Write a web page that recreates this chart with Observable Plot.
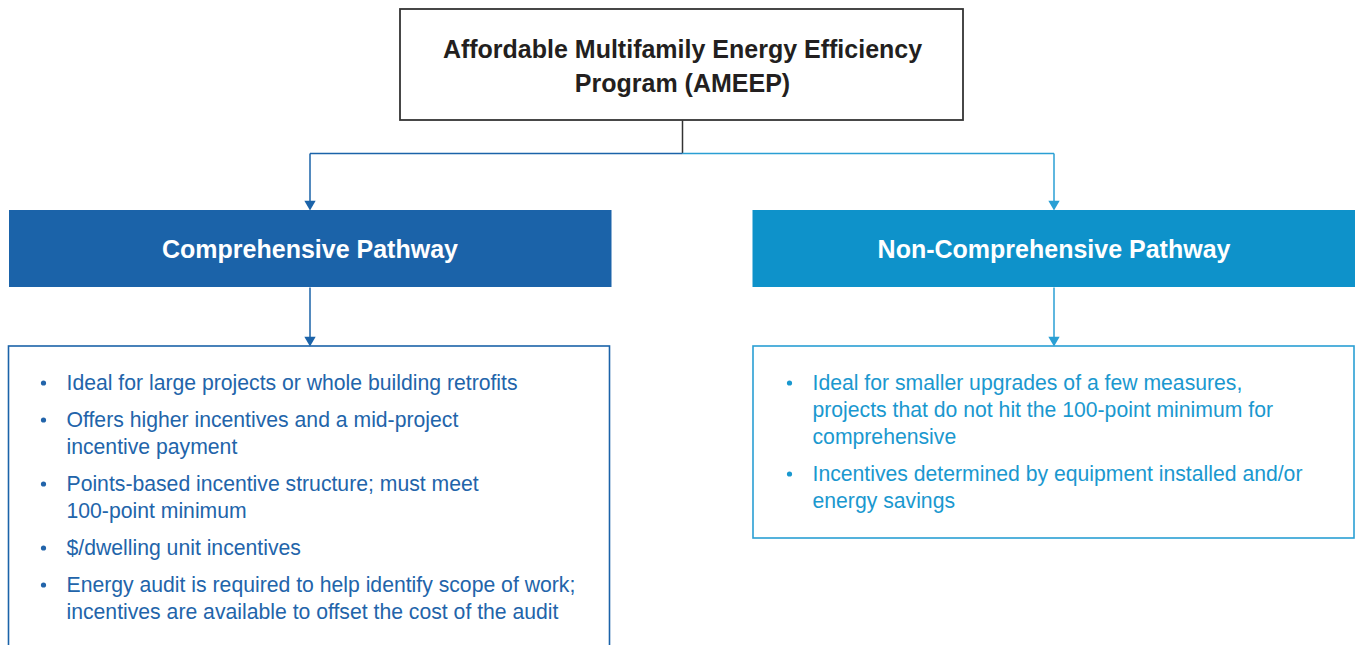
<!DOCTYPE html>
<html><head><meta charset="utf-8">
<script src="https://cdn.jsdelivr.net/npm/d3@7"></script>
<script src="https://cdn.jsdelivr.net/npm/@observablehq/plot@0.6"></script>
<style>html,body{margin:0;padding:0;background:#fff;overflow:hidden}svg{display:block}</style>
</head><body><div id="chart"></div>
<script>
// ---- content ----
const titleLines = ["Affordable Multifamily Energy Efficiency", "Program (AMEEP)"];
const pathwayNames = ["Comprehensive Pathway", "Non-Comprehensive Pathway"];
const comprehensiveBullets = [
  ["Ideal for large projects or whole building retrofits"],
  ["Offers higher incentives and a mid-project", "incentive payment"],
  ["Points-based incentive structure; must meet", "100-point minimum"],
  ["$/dwelling unit incentives"],
  ["Energy audit is required to help identify scope of work;", "incentives are available to offset the cost of the audit"]
];
const nonComprehensiveBullets = [
  ["Ideal for smaller upgrades of a few measures,", "projects that do not hit the 100-point minimum for", "comprehensive"],
  ["Incentives determined by equipment installed and/or", "energy savings"]
];
const pathwayBullets = [comprehensiveBullets, nonComprehensiveBullets];

// ---- styles ----
const pathwayFill = ["#1b63a9", "#0e92ca"];
const pathwayLine = ["#1b63a9", "#2a9fd4"];
const pathwayText = ["#2264aa", "#1a98cf"];
const ink = "#231f20";
const font = "'Liberation Sans', Arial, Helvetica, sans-serif";

// ---- layout ----
const W = 1355, H = 645;
const topBox = {x1: 400, x2: 963, y1: 9, y2: 120};
const topCx = 682, splitY = 153;
const colCx = [309.5, 1053.5];
const headerX = [[9, 611.5], [752.5, 1356]];
const headerY = [210, 287];
const contentX = [[8.5, 609.5], [753, 1354]];
const contentY1 = 346;
const contentY2 = [670, 538];
const bulletX = [43, 789], textX = [66, 812];
const firstLineY = 383, lineStep = 27, itemGap = 10;
const arrowR = 4.2;
const arrowTip = 2 * Math.sqrt(Math.PI * arrowR * arrowR / (Math.sqrt(3) * 3));

// ---- derived tables ----
const boxes = [
  {x1: topBox.x1, x2: topBox.x2, y1: topBox.y1, y2: topBox.y2, fill: "#ffffff", stroke: "#333333", sw: 1.8},
  ...pathwayNames.map((n, i) => ({x1: headerX[i][0], x2: headerX[i][1], y1: headerY[0], y2: headerY[1], fill: pathwayFill[i], stroke: "none", sw: 0})),
  ...pathwayNames.map((n, i) => ({x1: contentX[i][0], x2: contentX[i][1], y1: contentY1, y2: contentY2[i], fill: "#ffffff", stroke: pathwayLine[i], sw: 1.6}))
];

const segments = [
  {x1: topCx, y1: topBox.y2, x2: topCx, y2: splitY, c: "#333333"},
  {x1: colCx[0], y1: splitY, x2: topCx, y2: splitY, c: pathwayLine[0]},
  {x1: topCx, y1: splitY, x2: colCx[1], y2: splitY, c: pathwayLine[1]},
  ...colCx.map((x, i) => ({x1: x, y1: splitY, x2: x, y2: headerY[0] - 5, c: pathwayLine[i]})),
  ...colCx.map((x, i) => ({x1: x, y1: headerY[1], x2: x, y2: contentY1 - 5, c: pathwayLine[i]}))
];

const arrows = [
  ...colCx.map((x, i) => ({x, y: headerY[0] - arrowTip, c: pathwayLine[i]})),
  ...colCx.map((x, i) => ({x, y: contentY1 - arrowTip, c: pathwayLine[i]}))
];

const titleRows = titleLines.map((t, i) => ({x: topCx, y: 49 + i * 34, t}));
const headerRows = pathwayNames.map((t, i) => ({x: colCx[i], y: 249, t}));

const bulletRows = [], bulletDots = [];
pathwayBullets.forEach((items, i) => {
  let y = firstLineY;
  items.forEach(lines => {
    bulletDots.push({x: bulletX[i], y: y - 0.5, c: pathwayText[i]});
    lines.forEach(line => {
      bulletRows.push({x: textX[i], y, t: line, c: pathwayText[i]});
      y += lineStep;
    });
    y += itemGap;
  });
});

const chart = Plot.plot({
  width: W, height: H,
  margin: 0,
  x: {type: "identity", axis: null},
  y: {type: "identity", axis: null},
  color: {type: "identity"},
  style: {fontFamily: font, background: "#fff"},
  marks: [
    Plot.rect(boxes, {x1: "x1", x2: "x2", y1: "y1", y2: "y2", fill: "fill", stroke: "stroke", strokeWidth: d => d.sw}),
    Plot.link(segments, {x1: "x1", y1: "y1", x2: "x2", y2: "y2", stroke: "c", strokeWidth: 1.5}),
    Plot.dot(arrows, {x: "x", y: "y", symbol: "triangle", r: arrowR, rotate: 180, fill: "c", stroke: "none"}),
    Plot.text(titleRows, {x: "x", y: "y", text: "t", fill: ink, fontSize: 25, fontWeight: "bold", textAnchor: "middle", fontFamily: font}),
    Plot.text(headerRows, {x: "x", y: "y", text: "t", fill: "#ffffff", fontSize: 25, fontWeight: "bold", textAnchor: "middle", fontFamily: font}),
    Plot.dot(bulletDots, {x: "x", y: "y", r: 2.6, fill: "c", stroke: "none"}),
    Plot.text(bulletRows, {x: "x", y: "y", text: "t", fill: "c", fontSize: 21.2, textAnchor: "start", fontFamily: font})
  ]
});
document.getElementById("chart").appendChild(chart);
</script>
</body></html>
